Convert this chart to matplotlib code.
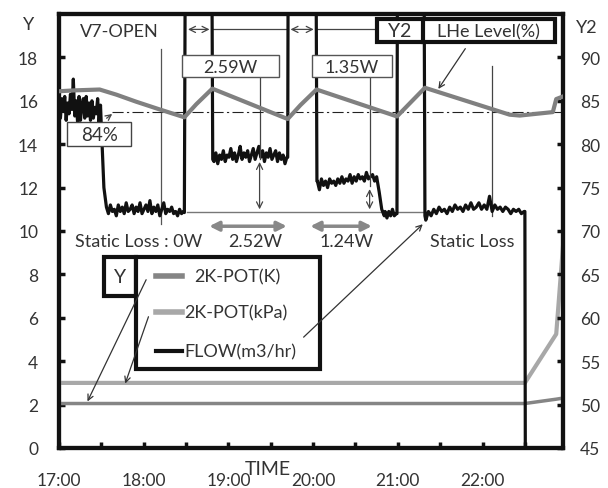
import numpy as np
import matplotlib
matplotlib.use("Agg")
import matplotlib.pyplot as plt
from matplotlib.patches import Rectangle

plt.rcParams['font.family'] = ['Lato', 'DejaVu Sans']

# ---------------- data (hours after 17:00) ----------------
x_tick_labels = ["17:00", "18:00", "19:00", "20:00", "21:00", "22:00"]
y_ticks = [0, 2, 4, 6, 8, 10, 12, 14, 16, 18]
y2_ticks = [45, 50, 55, 60, 65, 70, 75, 80, 85, 90]

# FLOW (m3/hr) plateaus
flow_seg1 = [15.9, 15.2, 16.1, 15.5, 16.2, 15.1, 15.9, 15.4, 16.3, 15.6, 17.0, 15.3, 16.0,
             15.0, 16.2, 15.1, 15.8, 16.1, 15.2, 16.2, 15.3, 15.9, 15.1, 16.0, 15.2, 15.7,
             15.4, 16.1, 15.0, 15.8]
flow_seg2 = [11.1, 10.8, 11.2, 10.9, 11.0, 10.7, 11.2, 10.9, 11.1, 10.8, 11.3, 10.9, 11.0,
             11.2, 10.8, 11.1, 10.9, 11.3, 10.8, 11.0, 11.2, 10.9, 11.4, 10.8, 11.1, 10.9,
             11.2, 10.7, 11.0, 11.3, 10.8, 11.0, 10.9, 11.1, 10.8, 10.9, 10.7, 11.0, 10.8, 10.9]
flow_seg3 = [13.2, 13.6, 13.1, 13.5, 13.3, 13.7, 13.2, 13.5, 13.4, 13.8, 13.3, 13.6, 13.2,
             13.5, 13.9, 13.3, 13.6, 13.4, 13.7, 13.2, 13.5, 13.8, 13.3, 13.6, 13.9, 13.4,
             13.7, 13.2, 13.6, 13.4, 13.8, 13.3, 13.5, 13.7, 13.2, 13.6, 13.3, 13.5, 13.1, 13.4]
flow_seg4 = [12.3, 11.9, 12.4, 12.1, 12.3, 12.0, 12.4, 12.2, 12.3, 12.1, 12.4, 12.2, 12.5,
             12.2, 12.4, 12.3, 12.6, 12.2, 12.5, 12.3, 12.6, 12.4, 12.5, 12.3, 12.7, 12.4,
             12.5, 12.6, 12.3, 12.5]
flow_seg5 = [10.9, 10.6, 10.9, 10.7, 11.0, 10.7, 10.8]
flow_seg6 = [10.5, 10.9, 10.7, 11.0, 10.8, 11.1, 10.9, 11.0, 10.8, 11.1, 10.9, 11.2, 11.0,
             11.1, 10.9, 11.2, 11.0, 11.3, 11.0, 11.1, 11.3, 11.0, 11.2, 11.0, 11.6, 10.9,
             11.2, 11.0, 11.1, 10.9, 11.1, 11.0, 10.8, 11.0, 10.9, 11.0, 10.8, 10.9]
flow_seg_spans = [(0.0, 0.49), (0.56, 1.47), (1.83, 2.69), (3.05, 3.75), (3.85, 3.98), (4.33, 5.49)]
flow_off_scale = 22.0   # value above the plotted range (clipped)

# LHe level (%) on Y2
level_t = [0.0, 0.18, 0.48, 0.68, 0.91, 1.19, 1.48, 1.62, 1.81, 2.70, 2.85, 3.04,
           3.99, 4.15, 4.32, 5.32, 5.44, 5.83, 5.87, 5.95]
level_v = [86.1, 86.2, 86.3, 85.7, 84.9, 84.0, 83.1, 84.6, 86.4, 82.9, 84.5, 86.3,
           83.2, 84.8, 86.5, 83.4, 83.3, 83.7, 85.2, 85.5]
level_ref = 83.7

# 2K-POT temperature (K) and pressure (kPa)
pot_t = [0.0, 5.50, 5.87, 5.95]
pot_k = [2.05, 2.05, 2.25, 2.30]
pot_kpa = [3.0, 3.0, 5.25, 9.3]

# ---------------- build flow trace ----------------
segs = [flow_seg1, flow_seg2, flow_seg3, flow_seg4, flow_seg5, flow_seg6]
ft, fv = [], []
for i, (seg, (a, b)) in enumerate(zip(segs, flow_seg_spans)):
    tt = np.linspace(a, b, len(seg))
    ft.extend(tt); fv.extend(seg)
    if i == 0:
        ft += [0.50, 0.53]; fv += [14.8, 12.0]
    elif i == 1:
        ft += [1.48, 1.49, 1.805, 1.815]; fv += [10.85, flow_off_scale, flow_off_scale, 13.3]
    elif i == 2:
        ft += [2.70, 2.705, 3.035, 3.045]; fv += [13.4, flow_off_scale, flow_off_scale, 12.3]
    elif i == 3:
        ft += [3.78, 3.81, 3.84]; fv += [11.8, 11.0, 10.7]
    elif i == 4:
        ft += [3.99, 3.995, 4.31, 4.32]; fv += [10.8, flow_off_scale, flow_off_scale, 10.7]
    elif i == 5:
        ft += [5.50, 5.505, 5.95]; fv += [10.9, 0.0, 0.0]

# ---------------- figure ----------------
fig = plt.figure(figsize=(6.08, 4.89), dpi=100)
ax = fig.add_axes([59 / 608, 40 / 489, 504 / 608, 434 / 489])
ax2 = ax.twinx()

ax.set_xlim(0, 5.95)
ax.set_ylim(0, 20)
ax2.set_ylim(45, 95)

fs = 12.5
ax.set_xticks(np.arange(0, 5.51, 0.5))
ax.set_xticklabels([x_tick_labels[i // 2] if i % 2 == 0 else "" for i in range(12)], fontsize=fs)
ax.set_yticks(y_ticks)
ax.set_yticklabels([str(v) for v in y_ticks], fontsize=fs)
ax2.set_yticks(y2_ticks)
ax2.set_yticklabels([str(v) for v in y2_ticks], fontsize=fs)

ax.tick_params(axis='x', direction='in', length=4, width=2.5, pad=17, colors='#111', labelcolor='#333')
ax.tick_params(axis='y', direction='in', length=4, width=2.5, pad=15, colors='#111', labelcolor='#333')
ax2.tick_params(axis='y', direction='in', length=4, width=2.5, pad=12, colors='#111', labelcolor='#333')
for a in (ax, ax2):
    for s in a.spines.values():
        s.set_linewidth(3)
        s.set_color('#111')

# data lines
ax.plot(pot_t, pot_kpa, color='#a8a8a8', lw=3, zorder=3)
ax.plot(pot_t, pot_k, color='#858585', lw=2.5, zorder=3)
ax.plot(ft, fv, color='#111111', lw=2.3, zorder=4)
ax2.plot(level_t, level_v, color='#808080', lw=3, zorder=3)
ax2.plot([0.63, 5.95], [level_ref, level_ref], color='#222', lw=0.8, ls=(0, (10, 3, 2, 3)), zorder=2)

tc = '#333'
# V7-OPEN markers
ax.text(0.71, 19.2, "V7-OPEN", ha='center', va='center', fontsize=13, color=tc)
ax.plot([1.209, 1.209], [10.31, 18.37], color='#555', lw=0.9)
for (a, b) in [(1.49, 1.81), (2.70, 3.04)]:
    ax.annotate("", xy=(a, 19.29), xytext=(b, 19.29),
                arrowprops=dict(arrowstyle='<->', color='#444', lw=0.9, mutation_scale=11))
ax.plot([1.81, 2.70], [19.29, 19.29], color='#444', lw=0.9)
ax.plot([3.04, 3.75], [19.29, 19.29], color='#444', lw=0.9)

# boxes with heater powers
for (x0, x1, lab) in [(1.457, 2.592, "2.59W"), (2.982, 3.928, "1.35W")]:
    ax.add_patch(Rectangle((x0, 17.08), x1 - x0, 1.01, facecolor='white', edgecolor='#555', lw=1, zorder=6))
    ax.text((x0 + x1) / 2, 17.58, lab, ha='center', va='center', fontsize=13, color=tc, zorder=7)

# vertical indicator lines + arrows
ax.plot([2.368, 2.368], [13.31, 17.08], color='#444', lw=0.9, zorder=5)
ax.annotate("", xy=(2.368, 10.87), xytext=(2.368, 13.31),
            arrowprops=dict(arrowstyle='<->', color='#444', lw=0.9, mutation_scale=11), zorder=5)
ax.plot([3.667, 3.667], [12.06, 17.08], color='#444', lw=0.9, zorder=5)
ax.annotate("", xy=(3.667, 10.87), xytext=(3.667, 12.06),
            arrowprops=dict(arrowstyle='<->', color='#444', lw=0.9, mutation_scale=11), zorder=5)
ax.plot([1.507, 4.377], [10.87, 10.87], color='#777', lw=1.0, zorder=3)
ax.plot([5.11, 5.11], [10.68, 17.59], color='#444', lw=0.9, zorder=3)

# gray double arrows
for (a, b) in [(1.741, 2.722), (2.934, 3.726)]:
    ax.annotate("", xy=(a, 10.22), xytext=(b, 10.22),
                arrowprops=dict(arrowstyle='<|-|>', color='#888', lw=2.5, mutation_scale=14))

ax.text(0.937, 9.53, "Static Loss : 0W", ha='center', va='center', fontsize=13, color=tc)
ax.text(2.321, 9.53, "2.52W", ha='center', va='center', fontsize=13, color=tc)
ax.text(3.395, 9.53, "1.24W", ha='center', va='center', fontsize=13, color=tc)
ax.text(4.873, 9.53, "Static Loss", ha='center', va='center', fontsize=13, color=tc)

# 84% box
ax.add_patch(Rectangle((0.098, 13.90), 0.756, 1.11, facecolor='white', edgecolor='#444', lw=1, zorder=6))
ax.text(0.476, 14.46, "84%", ha='center', va='center', fontsize=13.5, color=tc, zorder=7)
ax.annotate("", xy=(0.654, 15.47), xytext=(0.536, 15.12),
            arrowprops=dict(arrowstyle='->', color='#444', lw=0.9, mutation_scale=10), zorder=7)

# Y2 / LHe box
ax.add_patch(Rectangle((3.75, 18.69), 2.105, 1.06, facecolor='white', edgecolor='#111', lw=3, zorder=8))
ax.plot([4.294, 4.294], [18.69, 19.75], color='#111', lw=3, zorder=9)
ax.text(4.022, 19.22, "Y2", ha='center', va='center', fontsize=14, color=tc, zorder=9)
ax.text(5.075, 19.22, "LHe Level(%)", ha='center', va='center', fontsize=13, color=tc, zorder=9)
ax.annotate("", xy=(4.46, 16.44), xytext=(4.815, 18.51),
            arrowprops=dict(arrowstyle='->', color='#333', lw=0.9, mutation_scale=10), zorder=9)

# legend boxes
ax.add_patch(Rectangle((0.535, 7.0), 0.378, 1.79, facecolor='white', edgecolor='#111', lw=3, zorder=8))
ax.text(0.724, 7.92, "Y", ha='center', va='center', fontsize=14, color=tc, zorder=9)
ax.add_patch(Rectangle((0.913, 3.64), 2.164, 5.15, facecolor='white', edgecolor='#111', lw=3, zorder=8))
ax.plot([1.15, 1.457], [7.92, 7.92], color='#858585', lw=4, zorder=9)
ax.plot([1.15, 1.457], [6.26, 6.26], color='#a8a8a8', lw=4, zorder=9)
ax.plot([1.15, 1.457], [4.47, 4.47], color='#111', lw=3, zorder=9)
ax.text(1.60, 7.92, "2K-POT(K)", ha='left', va='center', fontsize=13, color=tc, zorder=9)
ax.text(1.48, 6.26, "2K-POT(kPa)", ha='left', va='center', fontsize=13, color=tc, zorder=9)
ax.text(1.48, 4.47, "FLOW(m3/hr)", ha='left', va='center', fontsize=13, color=tc, zorder=9)
ax.annotate("", xy=(0.322, 2.03), xytext=(1.043, 7.87),
            arrowprops=dict(arrowstyle='->', color='#333', lw=0.9, mutation_scale=10), zorder=10)
ax.annotate("", xy=(0.771, 2.85), xytext=(1.067, 6.17),
            arrowprops=dict(arrowstyle='->', color='#333', lw=0.9, mutation_scale=10), zorder=10)
ax.annotate("", xy=(4.318, 10.4), xytext=(2.864, 5.02),
            arrowprops=dict(arrowstyle='->', color='#333', lw=0.9, mutation_scale=10), zorder=10)

# axis titles
fig.text(29 / 608, 1 - 25 / 489, "Y", ha='center', va='center', fontsize=13, color=tc)
fig.text(587 / 608, 1 - 28 / 489, "Y2", ha='center', va='center', fontsize=13, color=tc)
fig.text(268 / 608, 1 - 470 / 489, "TIME", ha='center', va='center', fontsize=14, color=tc)

fig.savefig("out.png", dpi=100)
